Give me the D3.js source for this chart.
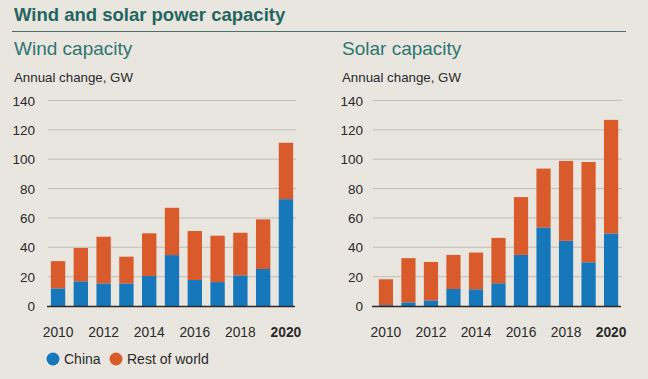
<!DOCTYPE html>
<html><head><meta charset="utf-8">
<script src="https://cdn.jsdelivr.net/npm/d3@7"></script>
<style>
html,body{margin:0;padding:0;background:#e9e5df;}
svg{display:block;}
</style></head>
<body>
<svg id="chart" width="648" height="379"></svg>
<script>
const years = [2010,2011,2012,2013,2014,2015,2016,2017,2018,2019,2020];
const windChina = [12.0,16.8,15.4,15.4,20.4,34.7,17.7,16.3,20.9,25.2,72.8];
const windRest  = [18.6,22.7,31.8,18.2,29.1,32.2,33.4,31.6,29.0,33.8,38.4];
const solarChina = [0.6,2.5,3.8,11.6,11.4,15.5,34.8,53.5,44.4,29.8,49.4];
const solarRest  = [17.6,30.1,26.2,23.2,25.0,30.9,39.4,40.1,54.4,68.3,77.4];
const yTicks = [0,20,40,60,80,100,120,140];
const xTickYears = [2010,2012,2014,2016,2018,2020];
const seriesNames = ["China","Rest of world"];
const colors = ["#1677bb","#d95a2b"];

const svg = d3.select("#chart");
const font = "'Liberation Sans', Arial, sans-serif";

// Title
svg.append("text").attr("x",14).attr("y",21).text("Wind and solar power capacity")
  .attr("font-family",font).attr("font-weight","bold").attr("font-size",18.5).attr("fill","#24665f");
svg.append("line").attr("x1",12).attr("x2",626).attr("y1",31.5).attr("y2",31.5)
  .attr("stroke","#4d6f6c").attr("stroke-width",1);

function panel(opts){
  const g = svg.append("g");
  g.append("text").attr("x",opts.tx).attr("y",55).text(opts.title)
    .attr("font-family",font).attr("font-weight",300).attr("font-size",19).attr("fill","#2f7672");
  g.append("text").attr("x",opts.tx).attr("y",82).text("Annual change, GW")
    .attr("font-family",font).attr("font-size",13.3).attr("fill","#2a2a2a");

  const x = d3.scaleBand().domain(years).range(opts.xr).paddingInner(0.37).paddingOuter(0.17);
  const y = d3.scaleLinear().domain([0,140]).range([306,100.5]);

  // gridlines
  g.append("g").selectAll("line").data(yTicks.filter(d=>d>0)).join("line")
    .attr("x1",opts.gx[0]).attr("x2",opts.gx[1])
    .attr("y1",d=>y(d)).attr("y2",d=>y(d))
    .attr("stroke","#b9b4ad").attr("stroke-width",0.8);

  // y axis labels
  const ya = d3.axisLeft(y).tickValues(yTicks).tickSize(0).tickPadding(0);
  const yg = g.append("g").attr("transform",`translate(${opts.ylx},0)`).call(ya);
  yg.select(".domain").remove();
  yg.selectAll("text").attr("font-family",font).attr("font-size",13.5).attr("fill","#2a2a2a").attr("dy","0.34em");

  // stacked bars
  const rows = years.map((yr,i)=>({year:yr, China:opts.china[i], "Rest of world":opts.rest[i]}));
  const stack = d3.stack().keys(seriesNames)(rows);
  g.append("g").selectAll("g").data(stack).join("g").attr("fill",(d,i)=>colors[i])
    .selectAll("rect").data(d=>d).join("rect")
    .attr("x",d=>x(d.data.year)).attr("width",x.bandwidth())
    .attr("y",d=>y(d[1])).attr("height",d=>y(d[0])-y(d[1]));

  // baseline
  g.append("line").attr("x1",opts.gx[0]-1).attr("x2",opts.gx[1]-1).attr("y1",y(0)+0.5).attr("y2",y(0)+0.5)
    .attr("stroke","#2b2b2b").attr("stroke-width",1.3);

  // x axis labels
  const xa = d3.axisBottom(x).tickValues(xTickYears).tickSize(0).tickPadding(0).tickFormat(d3.format("d"));
  const xg = g.append("g").attr("transform",`translate(0,${y(0)})`).call(xa);
  xg.select(".domain").remove();
  xg.selectAll("text").attr("font-family",font).attr("font-size",13.8).attr("fill","#2a2a2a")
    .attr("y",30.5).attr("dy",0)
    .attr("font-weight",d=>d===2020?"bold":"normal");
}

panel({title:"Wind capacity", tx:14, xr:[47,297], gx:[48,296], ylx:35, china:windChina, rest:windRest});
panel({title:"Solar capacity", tx:342, xr:[375,622], gx:[373,622], ylx:363, china:solarChina, rest:solarRest});

// legend
const lg = svg.append("g");
const lx = [53,116];
seriesNames.forEach((n,i)=>{
  lg.append("circle").attr("cx",lx[i]).attr("cy",359).attr("r",6.5).attr("fill",colors[i]);
  lg.append("text").attr("x",lx[i]+11).attr("y",364).text(n)
    .attr("font-family",font).attr("font-size",14).attr("fill","#2a2a2a");
});
</script>
</body></html>
